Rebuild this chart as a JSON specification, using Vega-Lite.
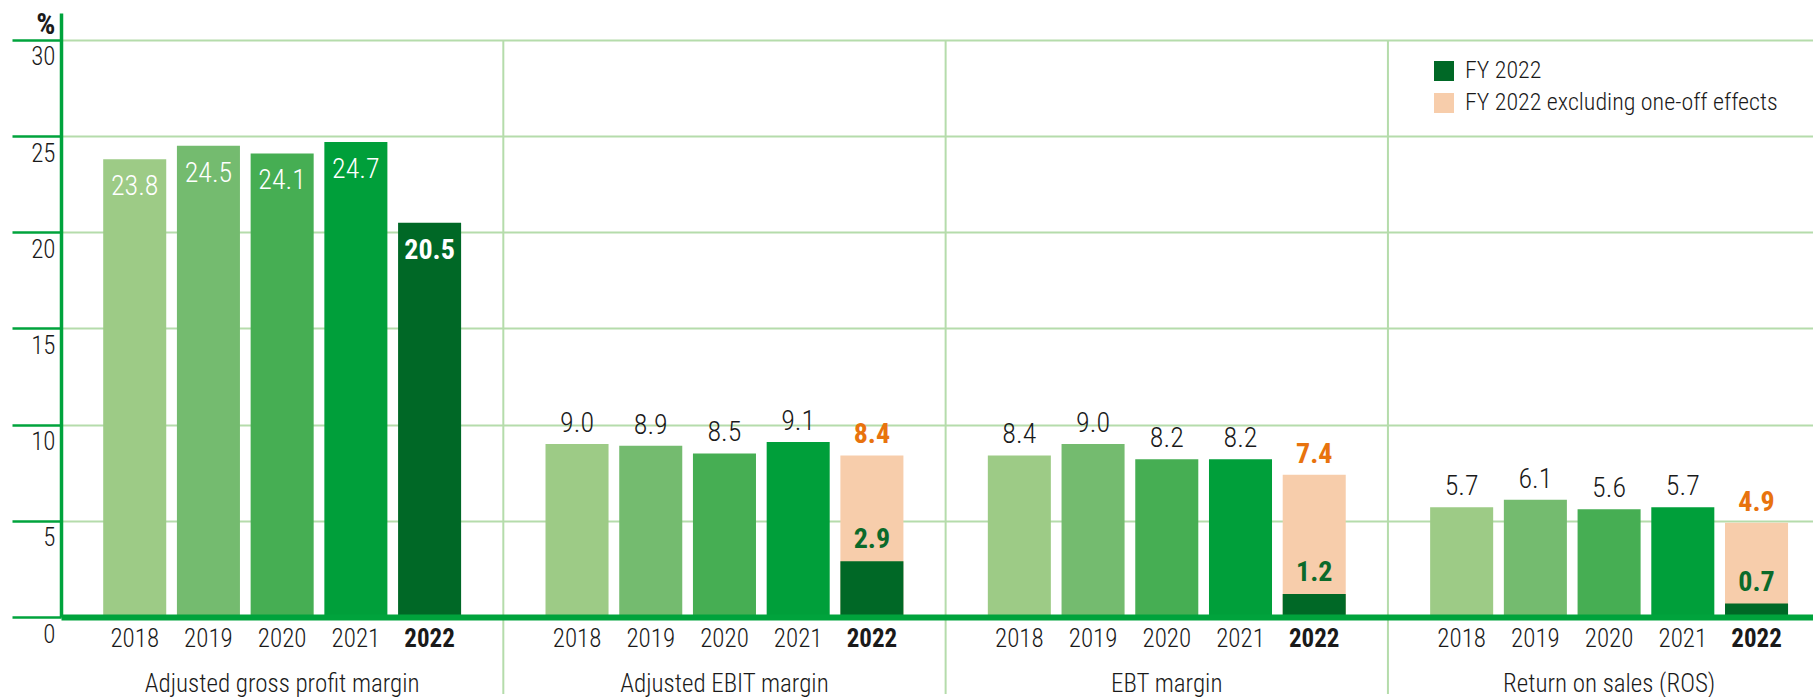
{
  "$schema": "https://vega.github.io/schema/vega-lite/v6.json",
  "width": 1752,
  "height": 604,
  "autosize": {"type": "none"},
  "padding": {"left": 61, "top": 13, "right": 0, "bottom": 80},
  "background": "white",
  "config": {"font": "Roboto Condensed, Liberation Sans Narrow, DejaVu Sans Condensed, Roboto, sans-serif", "view": {"stroke": null}},
  "data": {
    "values": [
      {"metric": "Adjusted gross profit margin", "year": "2018", "series": "2018", "value": 23.8},
      {"metric": "Adjusted gross profit margin", "year": "2019", "series": "2019", "value": 24.5},
      {"metric": "Adjusted gross profit margin", "year": "2020", "series": "2020", "value": 24.1},
      {"metric": "Adjusted gross profit margin", "year": "2021", "series": "2021", "value": 24.7},
      {"metric": "Adjusted gross profit margin", "year": "2022", "series": "FY 2022", "value": 20.5},
      {"metric": "Adjusted EBIT margin", "year": "2018", "series": "2018", "value": 9.0},
      {"metric": "Adjusted EBIT margin", "year": "2019", "series": "2019", "value": 8.9},
      {"metric": "Adjusted EBIT margin", "year": "2020", "series": "2020", "value": 8.5},
      {"metric": "Adjusted EBIT margin", "year": "2021", "series": "2021", "value": 9.1},
      {"metric": "Adjusted EBIT margin", "year": "2022", "series": "FY 2022 excluding one-off effects", "value": 8.4},
      {"metric": "Adjusted EBIT margin", "year": "2022", "series": "FY 2022", "value": 2.9},
      {"metric": "EBT margin", "year": "2018", "series": "2018", "value": 8.4},
      {"metric": "EBT margin", "year": "2019", "series": "2019", "value": 9.0},
      {"metric": "EBT margin", "year": "2020", "series": "2020", "value": 8.2},
      {"metric": "EBT margin", "year": "2021", "series": "2021", "value": 8.2},
      {"metric": "EBT margin", "year": "2022", "series": "FY 2022 excluding one-off effects", "value": 7.4},
      {"metric": "EBT margin", "year": "2022", "series": "FY 2022", "value": 1.2},
      {"metric": "Return on sales (ROS)", "year": "2018", "series": "2018", "value": 5.7},
      {"metric": "Return on sales (ROS)", "year": "2019", "series": "2019", "value": 6.1},
      {"metric": "Return on sales (ROS)", "year": "2020", "series": "2020", "value": 5.6},
      {"metric": "Return on sales (ROS)", "year": "2021", "series": "2021", "value": 5.7},
      {"metric": "Return on sales (ROS)", "year": "2022", "series": "FY 2022 excluding one-off effects", "value": 4.9},
      {"metric": "Return on sales (ROS)", "year": "2022", "series": "FY 2022", "value": 0.7}
    ]
  },
  "transform": [{"calculate": "datum.metric + '|' + datum.year", "as": "slot"}],
  "encoding": {
    "x": {
      "field": "slot",
      "type": "nominal",
      "scale": {
        "domain": [
          "Adjusted gross profit margin|2018", "Adjusted gross profit margin|2019", "Adjusted gross profit margin|2020", "Adjusted gross profit margin|2021", "Adjusted gross profit margin|2022",
          "gap1",
          "Adjusted EBIT margin|2018", "Adjusted EBIT margin|2019", "Adjusted EBIT margin|2020", "Adjusted EBIT margin|2021", "Adjusted EBIT margin|2022",
          "gap2",
          "EBT margin|2018", "EBT margin|2019", "EBT margin|2020", "EBT margin|2021", "EBT margin|2022",
          "gap3",
          "Return on sales (ROS)|2018", "Return on sales (ROS)|2019", "Return on sales (ROS)|2020", "Return on sales (ROS)|2021", "Return on sales (ROS)|2022"
        ],
        "paddingInner": 0.145,
        "paddingOuter": 0.4555,
        "align": 0.6284,
        "round": false
      },
      "axis": {
        "title": null,
        "domainColor": "#00a33c",
        "domainWidth": 6,
        "ticks": false,
        "tickSize": 0,
        "grid": false,
        "labelPadding": 9,
        "labelFontSize": 25,
        "labelColor": "#1a1a1a",
        "labelAngle": 0,
        "labelLimit": 0,
        "labelLineHeight": 45,
        "labelExpr": "indexof(datum.value, 'gap') == 0 ? '' : (slice(datum.value, -4) == '2020' ? [slice(datum.value, -4), split(datum.value, '|')[0]] : slice(datum.value, -4))",
        "labelFontWeight": {"condition": {"test": "slice(datum.value, -4) == '2022'", "value": "bold"}, "value": 300},
        "zindex": 1
      }
    }
  },
  "layer": [
    {
      "data": {"values": [{"slot": "gap1"}, {"slot": "gap2"}, {"slot": "gap3"}]},
      "mark": {"type": "rule", "color": "#b5dcab", "strokeWidth": 2},
      "encoding": {
        "y": {"datum": 30, "type": "quantitative"},
        "y2": {"datum": -4}
      }
    },
    {
      "mark": {"type": "bar"},
      "encoding": {
        "y": {
          "field": "value",
          "type": "quantitative",
          "stack": null,
          "scale": {"domain": [0, 31.4], "nice": false, "zero": true},
          "axis": {
            "values": [0, 5, 10, 15, 20, 25, 30],
            "title": "%",
            "titleAngle": 0,
            "titleAlign": "right",
            "titleBaseline": "top",
            "titleX": -6,
            "titleY": -4,
            "titleFontSize": 30,
            "titleFontWeight": "bold",
            "titleColor": "#1a1a1a",
            "domainColor": "#00a33c",
            "domainWidth": 3.5,
            "tickColor": "#00a33c",
            "tickWidth": 2.5,
            "tickSize": 49,
            "grid": true,
            "gridColor": "#b5dcab",
            "gridWidth": 2,
            "labelFontSize": 25,
            "labelFontWeight": 300,
            "labelColor": "#1a1a1a",
            "labelAlign": "right",
            "labelBaseline": "top",
            "labelPadding": -43,
            "labelOffset": 5,
            "zindex": 0
          }
        },
        "color": {
          "field": "series",
          "type": "nominal",
          "scale": {
            "domain": ["2018", "2019", "2020", "2021", "FY 2022", "FY 2022 excluding one-off effects"],
            "range": ["#9dcb86", "#74bb6f", "#46ae53", "#009f3a", "#006826", "#f7cdab"]
          },
          "legend": {
            "values": ["FY 2022", "FY 2022 excluding one-off effects"],
            "title": null,
            "orient": "none",
            "legendX": 1371,
            "legendY": 46,
            "symbolType": "square",
            "symbolSize": 400,
            "symbolStrokeWidth": 0,
            "symbolOpacity": 1,
            "labelFontSize": 24,
            "labelFontWeight": 300,
            "labelColor": "#1a1a1a",
            "labelOffset": 9,
            "rowPadding": 8,
            "padding": 0,
            "labelLimit": 0
          }
        }
      }
    },
    {
      "transform": [{"filter": "datum.metric == 'Adjusted gross profit margin' && datum.year != '2022'"}],
      "mark": {"type": "text", "color": "white", "fontSize": 28, "fontWeight": 300, "baseline": "middle", "dy": 28},
      "encoding": {"y": {"field": "value", "type": "quantitative"}, "text": {"field": "value", "type": "quantitative", "format": ".1f"}}
    },
    {
      "transform": [{"filter": "datum.metric == 'Adjusted gross profit margin' && datum.year == '2022'"}],
      "mark": {"type": "text", "color": "white", "fontSize": 28, "fontWeight": "bold", "baseline": "middle", "dy": 28},
      "encoding": {"y": {"field": "value", "type": "quantitative"}, "text": {"field": "value", "type": "quantitative", "format": ".1f"}}
    },
    {
      "transform": [{"filter": "datum.metric != 'Adjusted gross profit margin' && datum.year != '2022'"}],
      "mark": {"type": "text", "color": "#1a1a1a", "fontSize": 28, "fontWeight": 300, "baseline": "middle", "dy": -20},
      "encoding": {"y": {"field": "value", "type": "quantitative"}, "text": {"field": "value", "type": "quantitative", "format": ".1f"}}
    },
    {
      "transform": [{"filter": "datum.series == 'FY 2022 excluding one-off effects'"}],
      "mark": {"type": "text", "color": "#e8730e", "fontSize": 28, "fontWeight": "bold", "baseline": "middle", "dy": -20},
      "encoding": {"y": {"field": "value", "type": "quantitative"}, "text": {"field": "value", "type": "quantitative", "format": ".1f"}}
    },
    {
      "transform": [{"filter": "datum.metric != 'Adjusted gross profit margin' && datum.series == 'FY 2022'"}],
      "mark": {"type": "text", "color": "#0b6a2a", "fontSize": 28, "fontWeight": "bold", "baseline": "middle", "dy": -21},
      "encoding": {"y": {"field": "value", "type": "quantitative"}, "text": {"field": "value", "type": "quantitative", "format": ".1f"}}
    }
  ]
}
